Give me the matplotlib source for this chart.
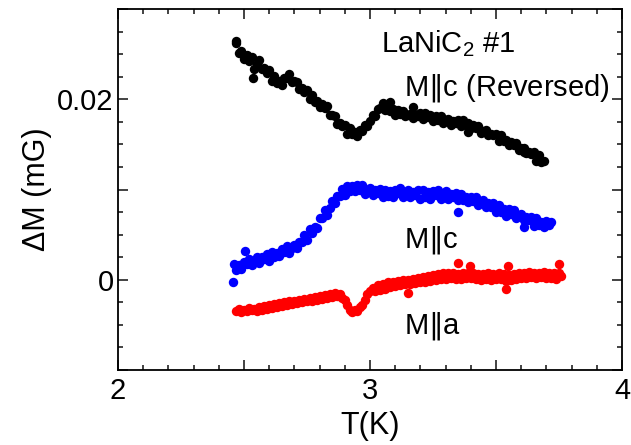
import numpy as np
import matplotlib
matplotlib.use("Agg")
import matplotlib.pyplot as plt
from matplotlib.ticker import MultipleLocator, FuncFormatter

plt.rcParams["font.family"] = ["Liberation Sans", "DejaVu Sans"]
plt.rcParams["mathtext.fontset"] = "custom"
plt.rcParams["mathtext.rm"] = "Liberation Sans"
plt.rcParams["mathtext.it"] = "Liberation Sans:italic"

# M || c (reversed), black, 10 mK steps, values in 1e-3 mG
black_t = (2.47, 3.69)
black_m = [
    26.2, 25.1, 25.4, 24.5,
    24.9, 24.2, 24.7, 23.4, 23.9,
    24.4, 23.4, 23.5, 22.9, 23.2,
    22.0, 22.6, 21.8, 22.0, 21.6,
    22.4, 22.3, 22.8, 21.9, 22.0,
    21.9, 21.1, 21.3, 20.8, 21.0,
    20.0, 20.5, 19.7, 19.8, 19.1,
    19.5, 19.0, 19.2, 18.3, 18.3,
    18.1, 17.3, 17.4, 17.0, 17.1,
    16.2, 16.8, 16.2, 16.4, 15.9,
    16.6, 16.5, 17.2, 17.0, 17.6,
    18.2, 18.1, 18.9, 19.0, 19.6,
    18.8, 19.3, 18.7, 18.9, 18.3,
    18.8, 18.4, 18.7, 18.1, 18.3,
    18.4, 17.9, 18.3, 18.1, 18.5,
    17.8, 18.5, 18.0, 18.2, 17.6,
    18.1, 17.7, 18.1, 17.4, 17.7,
    17.8, 17.2, 17.6, 17.4, 17.7,
    17.0, 17.7, 17.1, 17.4, 16.8,
    17.2, 16.8, 17.0, 16.3, 16.5,
    16.6, 16.0, 16.2, 16.0, 16.2,
    15.4, 16.0, 15.4, 15.5, 14.9,
    15.3, 14.9, 15.2, 14.4, 14.6,
    14.6, 14.0, 14.2, 13.9, 14.1,
    13.2, 13.8, 13.1, 13.2,
]
black_xt = [2.47, 2.537, 3.08, 3.17, 3.39, 3.61]
black_xm = [26.4, 22.4, 19.7, 19.1, 16.4, 14.1]

# M || c, blue
blue_t = (2.46, 3.72)
blue_m = [
    1.7, 1.1, 1.6, 1.2, 2.0,
    1.7, 2.3, 1.6, 2.1, 2.5,
    1.9, 2.5, 2.3, 2.9, 2.1,
    3.1, 2.5, 3.0, 2.6, 3.4,
    3.1, 3.7, 3.0, 3.5, 3.9,
    3.5, 4.2, 4.2, 5.0, 4.4,
    5.6, 5.2, 5.9, 5.7, 6.8,
    6.8, 7.7, 7.2, 8.0, 8.7,
    8.5, 9.3, 9.3, 10.1, 9.4,
    10.4, 9.8, 10.4, 9.8, 10.5,
    10.0, 10.5, 9.5, 9.8, 10.2,
    9.4, 9.9, 9.6, 10.1, 9.2,
    10.0, 9.3, 9.8, 9.2, 10.0,
    9.6, 10.2, 9.2, 9.6, 10.0,
    9.2, 9.7, 9.4, 9.9, 9.0,
    9.9, 9.2, 9.7, 9.0, 9.8,
    9.4, 9.9, 9.0, 9.4, 9.8,
    9.0, 9.5, 9.2, 9.6, 8.8,
    9.5, 8.8, 9.2, 8.6, 9.2,
    8.7, 9.2, 8.3, 8.6, 8.8,
    8.1, 8.5, 8.1, 8.5, 7.5,
    8.3, 7.5, 7.8, 7.1, 7.8,
    7.3, 7.7, 6.8, 7.1, 7.3,
    6.6, 7.0, 6.6, 7.0, 6.0,
    6.8, 6.1, 6.4, 5.9, 6.5,
    6.1, 6.4,
]
blue_xt = [2.457, 2.505, 3.35, 3.61]
blue_xm = [-0.2, 3.2, 7.5, 5.8]

# M || a, red
red_t = (2.47, 3.76)
red_m = [
    -3.5, -3.2, -3.6, -3.3,
    -3.5, -3.1, -3.4, -3.2, -3.5,
    -3.0, -3.3, -2.9, -3.2, -2.8,
    -3.1, -2.7, -3.0, -2.6, -2.9,
    -2.5, -2.8, -2.4, -2.7, -2.3,
    -2.6, -2.2, -2.5, -2.1, -2.4,
    -2.0, -2.3, -1.9, -2.2, -1.8,
    -2.1, -1.7, -2.0, -1.6, -1.9,
    -1.5, -1.8, -1.6, -2.0, -2.2,
    -2.8, -3.3, -3.6, -3.4, -3.5,
    -3.0, -2.8, -2.2, -1.6, -1.2,
    -0.9, -1.3, -0.6, -1.1, -0.5,
    -1.0, -0.3, -0.8, -0.2, -0.7,
    -0.1, -0.6, 0.0, -0.5, 0.0,
    -0.5, 0.1, -0.4, 0.2, -0.3,
    0.3, -0.2, 0.4, -0.1, 0.5,
    0.0, 0.6, 0.1, 0.7, 0.1,
    0.7, 0.2, 0.8, 0.1, 0.6,
    0.1, 0.7, 0.2, 0.8, 0.2,
    0.7, 0.1, 0.6, 0.0, 0.6,
    0.1, 0.7, 0.0, 0.6, 0.1,
    0.7, 0.1, 0.6, -0.1, 0.5,
    0.0, 0.6, 0.1, 0.7, 0.2,
    0.8, 0.2, 0.9, 0.3, 0.8,
    0.2, 0.8, 0.3, 0.9, 0.2,
    0.8, 0.2, 0.7, 0.1, 0.8,
    0.4,
]
red_xt = [3.348, 3.396, 3.547, 3.75, 3.149, 3.539]
red_xm = [1.9, 1.5, 1.5, 1.8, -1.5, -1.0]


def series(trange, vals, xt, xm):
    t = np.linspace(trange[0], trange[1], len(vals))
    t = np.concatenate([t, xt])
    m = np.concatenate([np.array(vals), np.array(xm)]) * 1e-3
    return t, m


fig = plt.figure(figsize=(6.31, 4.45), dpi=100)
ax = fig.add_axes([0.187, 0.1685, 0.7987, 0.8113])

for trange, vals, xt, xm, color in [
    (black_t, black_m, black_xt, black_xm, "black"),
    (blue_t, blue_m, blue_xt, blue_xm, "#0000ff"),
    (red_t, red_m, red_xt, red_xm, "#ff0000"),
]:
    t, m = series(trange, vals, xt, xm)
    ax.scatter(t, m, s=46, color=color, linewidths=0, zorder=3)

ax.set_xlim(2, 4)
ax.set_ylim(-0.01, 0.03)

ax.xaxis.set_major_locator(MultipleLocator(0.5))
ax.xaxis.set_minor_locator(MultipleLocator(0.1))
ax.xaxis.set_major_formatter(FuncFormatter(
    lambda v, p: f"{v:.0f}" if abs(v - round(v)) < 1e-6 else ""))
ax.yaxis.set_major_locator(MultipleLocator(0.01))
ax.yaxis.set_minor_locator(MultipleLocator(0.0025))
ax.yaxis.set_major_formatter(FuncFormatter(
    lambda v, p: {0: "0", 2: "0.02"}.get(int(round(v * 100)), "")
    if abs(v * 100 - round(v * 100)) < 1e-6 else ""))

ax.tick_params(which="both", direction="in", top=True, right=True,
               labelsize=21, width=1.2, color="#222222")
ax.tick_params(which="major", length=7)
ax.tick_params(axis="x", which="major", pad=5)
ax.tick_params(axis="y", which="major", pad=3)
ax.tick_params(which="minor", length=3.5)
for sp in ax.spines.values():
    sp.set_linewidth(1.3)

ax.set_xlabel("T(K)", fontsize=22, labelpad=4)
ax.set_ylabel("ΔM (mG)", fontsize=22, labelpad=4)

ax.text(3.042, 0.0252, "LaNiC$_2$ #1", fontsize=21, ha="left", va="baseline")
ax.text(3.133, 0.0204, r"M$\Vert$c (Reversed)", fontsize=21, ha="left",
        va="baseline", math_fontfamily="dejavusans")
ax.text(3.133, 0.0036, r"M$\Vert$c", fontsize=21, ha="left", va="baseline",
        math_fontfamily="dejavusans")
ax.text(3.133, -0.0059, r"M$\Vert$a", fontsize=21, ha="left", va="baseline",
        math_fontfamily="dejavusans")

fig.savefig("out.png", dpi=100)
